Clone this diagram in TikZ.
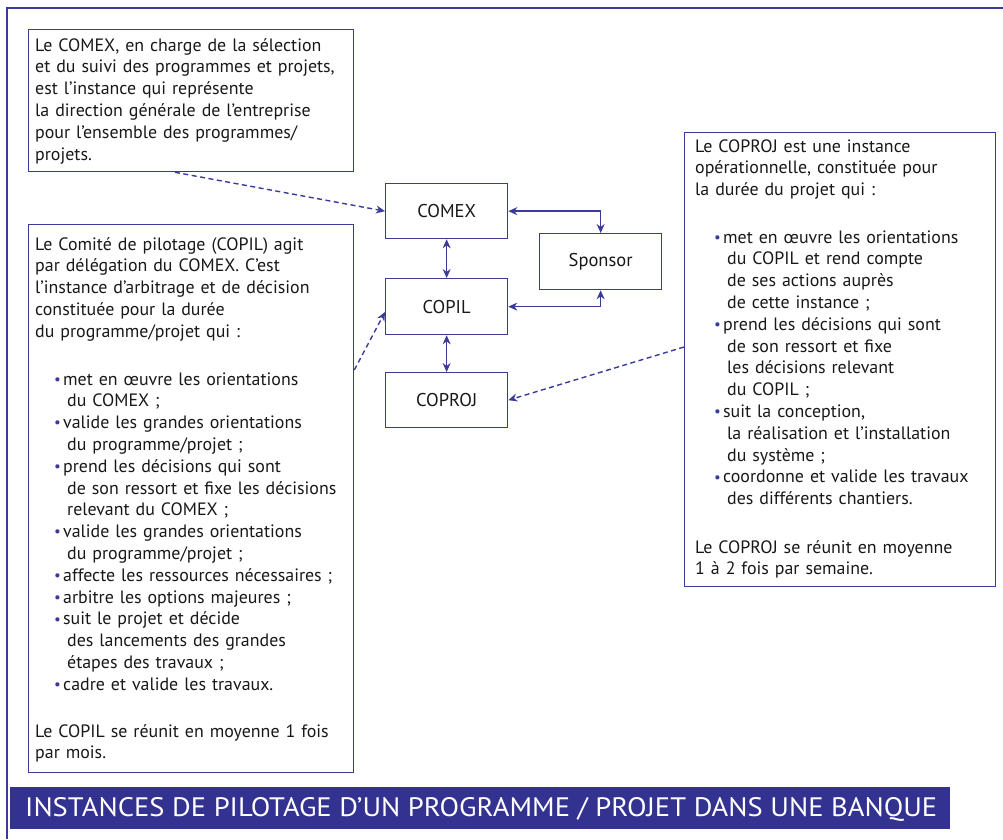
\documentclass[tikz,border=0pt]{standalone}
\usepackage{fontspec}
\setmainfont{PT Sans}
\usepackage{graphicx}
\usetikzlibrary{arrows.meta,calc}
\definecolor{linec}{RGB}{58,58,152}
\definecolor{bannerc}{RGB}{51,50,145}
\definecolor{textc}{RGB}{24,24,24}
% bullet with hanging indent, and indent of continuation lines
\newcommand{\bul}{\makebox[28pt][l]{\hspace{19pt}{\fontsize{15}{15}\selectfont\textcolor{linec}{\raisebox{0.8pt}{•}}}}}
\newcommand{\cont}{\makebox[32pt]{}}

\begin{document}
\begin{tikzpicture}[x=1pt,y=-1pt,
  frame/.style={draw=linec,line width=1.3pt,inner sep=0pt,anchor=north west},
  unit/.style={frame,minimum width=122pt,minimum height=55pt,font=\fontsize{18.5}{22}\selectfont,text=textc},
  txt/.style={inner sep=0pt,anchor=base west,align=left,text width=400pt,font=\fontsize{17.9}{21.8}\selectfont,text=textc},
  link/.style={draw=linec,line width=1.4pt,{Stealth[length=9pt,width=8pt]}-{Stealth[length=9pt,width=8pt]}},
  note/.style={draw=linec,line width=1.4pt,dash pattern=on 5pt off 3.5pt,-{Stealth[length=9pt,width=8pt]}}]
\useasboundingbox (0,0) rectangle (1003,839);

% outer frame
\draw[linec,line width=1.3pt] (1003,8) -- (7,8) -- (7,839);

% description boxes
\node[frame,minimum width=325pt,minimum height=142pt] (cbox) at (28,29) {};
\node[frame,minimum width=325pt,minimum height=548pt] (lbox) at (28,224) {};
\node[frame,minimum width=311pt,minimum height=454pt] (rbox) at (684,132) {};

% governing bodies
\node[unit] (comex) at (385,183) {COMEX};
\node[unit,minimum height=56pt] (copil) at (385,278) {COPIL};
\node[unit] (coproj) at (385,372) {COPROJ};
\node[unit,minimum height=56pt] (sponsor) at (539,233) {Sponsor};

% texts
\node[txt] (ctext) at (35,51) {Le COMEX, en charge de la sélection\\
et du suivi des programmes et projets,\\
est l’instance qui représente\\
la direction générale de l’entreprise\\
pour l’ensemble des programmes/\\
projets.};

\node[txt] (lintro) at (35,250) {Le Comité de pilotage (COPIL) agit\\
par délégation du COMEX. C’est\\
l’instance d’arbitrage et de décision\\
constituée pour la durée\\
du programme/projet qui :};

\node[txt] (llist) at (35,385) {\bul met en œuvre les orientations\\
\cont du COMEX ;\\
\bul valide les grandes orientations\\
\cont du programme/projet ;\\
\bul prend les décisions qui sont\\
\cont de son ressort et fixe les décisions\\
\cont relevant du COMEX ;\\
\bul valide les grandes orientations\\
\cont du programme/projet ;\\
\bul affecte les ressources nécessaires ;\\
\bul arbitre les options majeures ;\\
\bul suit le projet et décide\\
\cont des lancements des grandes\\
\cont étapes des travaux ;\\
\bul cadre et valide les travaux.};

\node[txt] (lend) at (35,737) {Le COPIL se réunit en moyenne 1 fois\\
par mois.};

\node[txt] (rintro) at (695,152) {Le COPROJ est une instance\\
opérationnelle, constituée pour\\
la durée du projet qui :};

\node[txt] (rlist) at (695,243) {\bul met en œuvre les orientations\\
\cont du COPIL et rend compte\\
\cont de ses actions auprès\\
\cont de cette instance ;\\
\bul prend les décisions qui sont\\
\cont de son ressort et fixe\\
\cont les décisions relevant\\
\cont du COPIL ;\\
\bul suit la conception,\\
\cont la réalisation et l’installation\\
\cont du système ;\\
\bul coordonne et valide les travaux\\
\cont des différents chantiers.};

\node[txt] (rend) at (695,553) {Le COPROJ se réunit en moyenne\\
1 à 2 fois par semaine.};

% links between bodies
\draw[link] (comex.south) -- (copil.north);
\draw[link] (copil.south) -- (coproj.north);
\draw[link] (comex.east) -| (sponsor.north);
\draw[link] (copil.east) -| (sponsor.south);

% dashed pointers from descriptions
\draw[note] ([xshift=147pt]cbox.south west) -- (comex.west);
\draw[note] ([yshift=-146pt]lbox.north east) -- ([yshift=-34pt]copil.north west);
\draw[note] ([yshift=-215pt]rbox.north west) -- (coproj.east);

% caption banner
\node[fill=bannerc,inner sep=0pt,anchor=north west,minimum width=940pt,minimum height=42pt] (banner) at (10,787) {};
\node[inner sep=0pt,anchor=base west,text=white] (title) at (25,816)
  {\resizebox{912pt}{19pt}{\fontsize{30}{30}\selectfont INSTANCES DE PILOTAGE D’UN PROGRAMME / PROJET DANS UNE BANQUE}};
\end{tikzpicture}
\end{document}
